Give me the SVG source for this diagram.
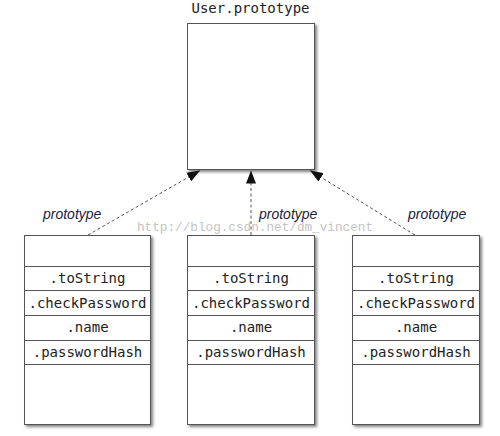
<svg xmlns="http://www.w3.org/2000/svg" width="500" height="436" viewBox="0 0 500 436">
<defs>
<filter id="sh" x="-10%" y="-10%" width="130%" height="130%">
<feGaussianBlur in="SourceAlpha" stdDeviation="1.5"/>
<feOffset dx="2" dy="2" result="b"/>
<feComponentTransfer><feFuncA type="linear" slope="0.5"/></feComponentTransfer>
<feMerge><feMergeNode/><feMergeNode in="SourceGraphic"/></feMerge>
</filter>
<marker id="ah" viewBox="0 0 13 10" refX="13" refY="5" markerWidth="13" markerHeight="10" markerUnits="userSpaceOnUse" orient="auto">
<path d="M0,0 L13,5 L0,10 Z" fill="#111"/>
</marker>
</defs>
<style>
.box{fill:#fff;stroke:#555;stroke-width:1}
.sep{stroke:#555;stroke-width:1}
.mono{font-family:"DejaVu Sans Mono","Liberation Mono",monospace;font-size:14px;fill:#222;text-anchor:middle}
.lbl{font-family:"Liberation Sans","DejaVu Sans",sans-serif;font-style:italic;font-size:14px;fill:#1c2240}
.conn{fill:none;stroke:#555;stroke-width:1;stroke-dasharray:3,2.5}
.wm{font-family:"Liberation Mono","DejaVu Sans Mono",monospace;font-size:12.7px;fill:#c4c4c4}
</style>
<rect width="500" height="436" fill="#fff"/>
<g id="user-prototype">
<text class="mono" x="250.5" y="13">User.prototype</text>
<rect class="box" x="187.5" y="23.5" width="127" height="146" filter="url(#sh)"/>
</g>
<g id="connectors">
<line class="conn" x1="88" y1="235" x2="200" y2="170.5" marker-end="url(#ah)"/>
<line class="conn" x1="251" y1="235" x2="251" y2="170.5" marker-end="url(#ah)"/>
<line class="conn" x1="415" y1="235" x2="310" y2="170.5" marker-end="url(#ah)"/>
</g>
<text class="wm" x="137" y="231">http://blog.csdn.net/dm_vincent</text>
<g id="labels">
<text class="lbl" x="43" y="219">prototype</text>
<text class="lbl" x="259" y="219">prototype</text>
<text class="lbl" x="408" y="219">prototype</text>
</g>
<g id="obj1">
<rect class="box" x="24.5" y="235.5" width="126" height="189" filter="url(#sh)"/>
<line class="sep" x1="24.5" y1="266.5" x2="150.5" y2="266.5"/>
<line class="sep" x1="24.5" y1="290.5" x2="150.5" y2="290.5"/>
<line class="sep" x1="24.5" y1="315.5" x2="150.5" y2="315.5"/>
<line class="sep" x1="24.5" y1="340.5" x2="150.5" y2="340.5"/>
<line class="sep" x1="24.5" y1="364.5" x2="150.5" y2="364.5"/>
<text class="mono" x="87.5" y="283">.toString</text>
<text class="mono" x="87.5" y="308">.checkPassword</text>
<text class="mono" x="87.5" y="332">.name</text>
<text class="mono" x="87.5" y="357">.passwordHash</text>
</g>
<g id="obj2">
<rect class="box" x="187.5" y="235.5" width="127" height="189" filter="url(#sh)"/>
<line class="sep" x1="187.5" y1="266.5" x2="314.5" y2="266.5"/>
<line class="sep" x1="187.5" y1="290.5" x2="314.5" y2="290.5"/>
<line class="sep" x1="187.5" y1="315.5" x2="314.5" y2="315.5"/>
<line class="sep" x1="187.5" y1="340.5" x2="314.5" y2="340.5"/>
<line class="sep" x1="187.5" y1="364.5" x2="314.5" y2="364.5"/>
<text class="mono" x="251" y="283">.toString</text>
<text class="mono" x="251" y="308">.checkPassword</text>
<text class="mono" x="251" y="332">.name</text>
<text class="mono" x="251" y="357">.passwordHash</text>
</g>
<g id="obj3">
<rect class="box" x="352.5" y="235.5" width="127" height="189" filter="url(#sh)"/>
<line class="sep" x1="352.5" y1="266.5" x2="479.5" y2="266.5"/>
<line class="sep" x1="352.5" y1="290.5" x2="479.5" y2="290.5"/>
<line class="sep" x1="352.5" y1="315.5" x2="479.5" y2="315.5"/>
<line class="sep" x1="352.5" y1="340.5" x2="479.5" y2="340.5"/>
<line class="sep" x1="352.5" y1="364.5" x2="479.5" y2="364.5"/>
<text class="mono" x="416" y="283">.toString</text>
<text class="mono" x="416" y="308">.checkPassword</text>
<text class="mono" x="416" y="332">.name</text>
<text class="mono" x="416" y="357">.passwordHash</text>
</g>
</svg>
